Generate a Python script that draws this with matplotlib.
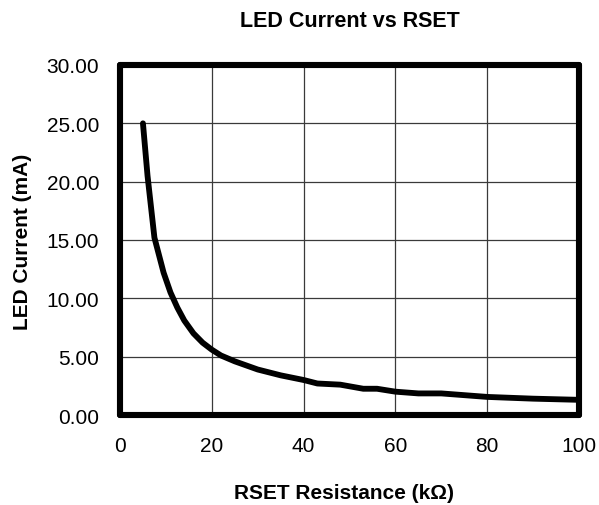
import matplotlib
matplotlib.use("Agg")
import matplotlib.pyplot as plt

plt.rcParams['font.family'] = ['Liberation Sans', 'DejaVu Sans']

resistance_kohm = [5, 6, 7.5, 9.5, 11, 12.5, 14, 16, 18, 20, 22, 25, 30, 35, 40,
                   43, 48, 53, 56, 60, 65, 70, 80, 90, 100]
led_current_ma = [25.0, 20.5, 15.2, 12.2, 10.5, 9.2, 8.1, 7.0, 6.2, 5.6, 5.1, 4.6, 3.9,
                  3.4, 3.0, 2.7, 2.6, 2.25, 2.25, 2.0, 1.85, 1.85, 1.55, 1.4, 1.3]
x_ticks = [0, 20, 40, 60, 80, 100]
y_ticks = [0, 5, 10, 15, 20, 25, 30]
y_tick_labels = ["0.00", "5.00", "10.00", "15.00", "20.00", "25.00", "30.00"]

W, H = 599, 506
fig = plt.figure(figsize=(W / 100, H / 100), dpi=100)
ax = fig.add_axes([120 / W, 1 - 416 / H, 459 / W, 350 / H])

ax.plot(resistance_kohm, led_current_ma, color='black', linewidth=4.2,
        solid_capstyle='round', solid_joinstyle='round', zorder=3)

ax.set_xlim(0, 100)
ax.set_ylim(0, 30)
ax.set_xticks(x_ticks)
ax.set_yticks(y_ticks)
ax.set_yticklabels(y_tick_labels)
ax.tick_params(axis='both', length=0, labelsize=15)
ax.tick_params(axis='x', pad=15)
ax.tick_params(axis='y', pad=15)
ax.grid(True, color='#3a3a3a', linewidth=0.9)
ax.set_axisbelow(True)

for s in ax.spines.values():
    s.set_linewidth(4.4)
    s.set_color('black')
    s.set_capstyle('round')

fig.text(350 / W, 1 - 27 / H, "LED Current vs RSET", fontsize=15.5,
         fontweight='bold', ha='center', va='baseline')
fig.text(344 / W, 1 - 499 / H, "RSET Resistance (kΩ)", fontsize=15,
         fontweight='bold', ha='center', va='baseline')
fig.text(23 / W, 1 - 242 / H, "LED Current (mA)", fontsize=15,
         fontweight='bold', ha='center', va='center', rotation=90)

fig.savefig("out.png", dpi=100, facecolor='white')
